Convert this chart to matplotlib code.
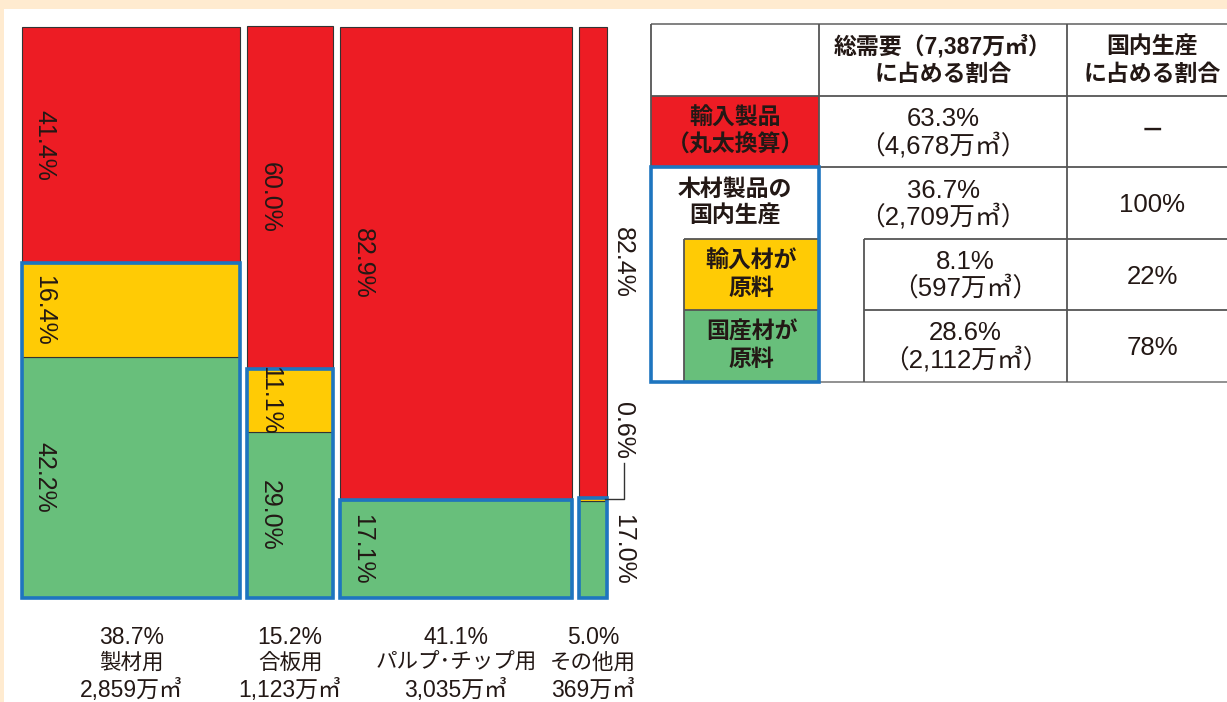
import matplotlib.pyplot as plt
from matplotlib.patches import Rectangle
import numpy as np

plt.rcParams['font.family'] = ['Liberation Sans', 'Noto Sans CJK JP']

# mekko data
categories = ['製材用', '合板用', 'パルプ･チップ用', 'その他用']
shares = [38.7, 15.2, 41.1, 5.0]
volumes = [2859, 1123, 3035, 369]
imported_products = [41.4, 60.0, 82.9, 82.4]
imported_material = [16.4, 11.1, 0.0, 0.6]
domestic_material = [42.2, 29.0, 17.1, 17.0]

# table data
total_demand = 7387
row_labels = [['輸入製品', '（丸太換算）'], ['木材製品の', '国内生産'],
              ['輸入材が', '原料'], ['国産材が', '原料']]
demand_share = [63.3, 36.7, 8.1, 28.6]
demand_volume = [4678, 2709, 597, 2112]
domestic_share = ['－', '100%', '22%', '78%']

RED = '#ED1C24'
YELLOW = '#FFCB05'
GREEN = '#68BF7B'
BLUE = '#1E75BF'
INK = '#231815'
LINE = '#555555'

fig = plt.figure(figsize=(12.27, 7.02), dpi=100, facecolor='#FFEBD0')
W, H = 1227, 702
fig.add_artist(Rectangle((4 / W, 0), 1, (H - 9) / H, transform=fig.transFigure,
                         facecolor='white', edgecolor='none', zorder=-1))

# ---------------- mekko chart ----------------
gap = 1.24
ax = fig.add_axes([22 / W, (H - 598) / H, 585 / W, 571 / H])
ax.set_xlim(0, 100 + 3 * gap)
ax.set_ylim(0, 100)
ax.axis('off')

shares_a = np.array(shares)
lefts = np.concatenate([[0], np.cumsum(shares_a[:-1] + gap)])
dom = np.array(domestic_material)
imat = np.array(imported_material)
iprod = np.array(imported_products)

kw = dict(width=shares_a, align='edge', edgecolor='#333333', linewidth=0.8, clip_on=False)
ax.bar(lefts, dom, color=GREEN, **kw)
ax.bar(lefts, imat, bottom=dom, color=YELLOW, **kw)
ax.bar(lefts, iprod, bottom=dom + imat, color=RED, **kw)
ax.bar(lefts, dom + imat, width=shares_a, align='edge', fill=False,
       edgecolor=BLUE, linewidth=2.6, clip_on=False, zorder=3)

lab = dict(rotation=-90, ha='center', va='center', fontsize=18, color=INK, zorder=4)
for i in range(4):
    segs = [(dom[i], dom[i] / 2),
            (imat[i], dom[i] + imat[i] / 2),
            (iprod[i], dom[i] + imat[i] + iprod[i] / 2)]
    if i < 3:
        for v, yc in segs:
            if v > 0:
                ax.text(lefts[i] + 4.0, yc, f'{v:.1f}%', **lab)
    else:
        xr = lefts[i] + shares_a[i]
        xl = xr + 2.85
        ax.text(xl, segs[0][1], f'{dom[i]:.1f}%', **lab)
        ax.text(xl, segs[2][1], f'{iprod[i]:.1f}%', **lab)
        ax.text(xl, 29.4, f'{imat[i]:.1f}%', **lab)
        ymid = dom[i] + imat[i] / 2
        ax.plot([xr - 0.4, xl + 0.2, xl + 0.2], [ymid, ymid, 23.6],
                color='#333333', lw=1, clip_on=False, zorder=4)

for i in range(4):
    xc = lefts[i] + shares_a[i] / 2
    for dy, txt, fs in [(39, f'{shares_a[i]:.1f}%', 16.5),
                        (65, categories[i], 15.5),
                        (92, f'{volumes[i]:,}万㎥', 16.5)]:
        ax.annotate(txt, xy=(xc, 0), xycoords=('data', 'axes fraction'),
                    xytext=(0, -dy * 0.72), textcoords='offset points',
                    ha='center', va='center', fontsize=fs, color=INK)

# ---------------- table ----------------
tb = fig.add_axes([0, 0, 1, 1], zorder=2)
tb.set_xlim(0, W)
tb.set_ylim(H, 0)
tb.axis('off')

x0, xsub, x1, xs, x2, x3 = 651, 684, 819, 864, 1067, 1240
ys = [24, 96, 167, 239, 310, 382]

tb.add_patch(Rectangle((x0, ys[1]), x1 - x0, ys[2] - ys[1], facecolor=RED, edgecolor='none'))
tb.add_patch(Rectangle((xsub, ys[3]), x1 - xsub, ys[4] - ys[3], facecolor=YELLOW, edgecolor='none'))
tb.add_patch(Rectangle((xsub, ys[4]), x1 - xsub, ys[5] - ys[4], facecolor=GREEN, edgecolor='none'))

lw = 1.3
tb.hlines(ys[0], x0, x3, color='#777777', lw=lw)
tb.hlines([ys[1], ys[2]], x0, x3, color=LINE, lw=lw)
tb.hlines([ys[3], ys[4]], xs, x3, color=LINE, lw=lw)
tb.hlines([ys[3], ys[4]], xsub, x1, color=LINE, lw=lw)
tb.hlines(ys[5], x1, x3, color='#888888', lw=lw)
tb.vlines(x0, ys[0], ys[2], color=LINE, lw=lw)
tb.vlines([x1, x2], ys[0], ys[5], color=LINE, lw=lw)
tb.vlines(xs, ys[3], ys[5], color=LINE, lw=lw)
tb.vlines(xsub, ys[3], ys[5], color=LINE, lw=lw)
tb.add_patch(Rectangle((x0, ys[2]), x1 - x0, ys[5] - ys[2], fill=False,
                       edgecolor=BLUE, linewidth=2.6, zorder=5))

jp = dict(ha='center', va='center', fontsize=16.5, fontweight='bold', color=INK)
num = dict(ha='center', va='center', fontsize=18.5, color=INK)

c2 = (x1 + x2) / 2
c3 = (x2 + 1237) / 2
tb.text(c2, 47, f'総需要（{total_demand:,}万㎥）', **jp)
tb.text(c2, 74, 'に占める割合', **jp)
tb.text(c3, 47, '国内生産', **jp)
tb.text(c3, 74, 'に占める割合', **jp)

for r in range(4):
    yc = (ys[r + 1] + ys[r + 2]) / 2
    lx = (x0 + x1) / 2 if r < 2 else (xsub + x1) / 2
    tb.text(lx, yc - 13.5, row_labels[r][0], **jp)
    tb.text(lx, yc + 13.5, row_labels[r][1], **jp)
    vx = c2 if r < 2 else (xs + x2) / 2
    tb.text(vx, yc - 12.5, f'{demand_share[r]:.1f}%', **num)
    tb.text(vx, yc + 14, f'（{demand_volume[r]:,}万㎥）', **num)
    if r == 0:
        tb.text(c3, yc, domestic_share[r], ha='center', va='center',
                fontsize=17, fontweight='bold', color=INK)
    else:
        tb.text(c3, yc + 2, domestic_share[r], **num)

fig.savefig('out.png', dpi=100, facecolor=fig.get_facecolor())
